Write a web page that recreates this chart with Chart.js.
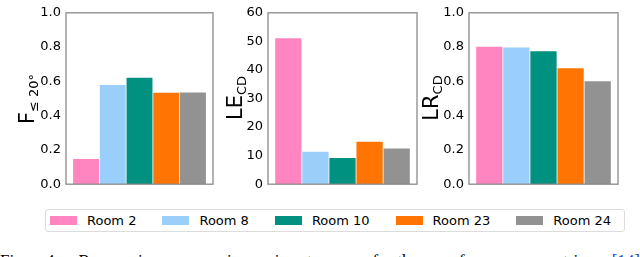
<!DOCTYPE html>
<html>
<head>
<meta charset="utf-8">
<script src="https://cdn.jsdelivr.net/npm/chart.js@4/dist/chart.umd.min.js"></script>
<style>
  html, body { margin: 0; padding: 0; background: #fff; }
  body { width: 640px; height: 257px; position: relative; overflow: hidden; font-family: "DejaVu Sans", sans-serif; }
  .panel { position: absolute; top: 0; }
  .ytitle { position: absolute; font-size: 21px; color: #000; white-space: nowrap; line-height: 1;
            transform: translate(-50%, -50%) rotate(-90deg); }
  .ytitle sub { font-size: 13px; vertical-align: -4px; }
  #legend { position: absolute; left: 45px; top: 209px; width: 574px; height: 21px;
            border: 1px solid #dcdcdc; border-radius: 3px; display: flex; align-items: center;
            padding-left: 4px; box-sizing: content-box; }
  .item { display: flex; align-items: center; margin-right: 26px; font-size: 13px; color: #000;
          white-space: nowrap; flex-shrink: 0; }
  .sw { width: 27px; height: 9px; margin-right: 10px; flex-shrink: 0; }
  #caption { position: absolute; left: 0; top: 252px; width: 640px; font-family: "Liberation Serif", serif;
             font-size: 17px; line-height: 17px; text-align: justify; text-align-last: justify; white-space: nowrap; }
  #caption a { color: #1a3fd6; text-decoration: none; }
</style>
</head>
<body>
<div class="panel" id="p1"><canvas id="c1" width="193" height="197"></canvas></div>
<div class="panel" id="p2"><canvas id="c2" width="195" height="197"></canvas></div>
<div class="panel" id="p3"><canvas id="c3" width="195" height="197"></canvas></div>
<div class="ytitle" style="left:28px;top:99px">F<sub>≤ 20°</sub></div>
<div class="ytitle" style="left:236px;top:98px">LE<sub>CD</sub></div>
<div class="ytitle" style="left:432px;top:98px">LR<sub>CD</sub></div>
<div id="legend"></div>
<div id="caption">Fig. 4: Room-wise comparison in terms of the performance metrics <a>[14]</a></div>
<script>
const rooms = ['Room 2', 'Room 8', 'Room 10', 'Room 23', 'Room 24'];
const roomColors = ['#ff85c0', '#99cffa', '#009180', '#ff7402', '#929292'];

const fValues = [0.147, 0.579, 0.621, 0.533, 0.535];
const leValues = [51.1, 11.4, 9.2, 14.9, 12.5];
const lrValues = [0.802, 0.797, 0.775, 0.676, 0.601];

const fTicks = [0, 0.2, 0.4, 0.6, 0.8, 1.0];
const leTicks = [0, 10, 20, 30, 40, 50, 60];
const lrTicks = [0, 0.2, 0.4, 0.6, 0.8, 1.0];

// chart area left edge for each panel
const panels = [
    {id: 'c1', box: 'p1', left: 66, values: fValues, ticks: fTicks, digits: 1},
    {id: 'c2', box: 'p2', left: 268, values: leValues, ticks: leTicks, digits: 0},
    {id: 'c3', box: 'p3', left: 469, values: lrValues, ticks: lrTicks, digits: 1},
];

const axisWidth = 44;

const frame = {
    id: 'frame',
    afterDraw(chart) {
        const a = chart.chartArea;
        const c = chart.ctx;
        c.save();
        c.strokeStyle = '#8a8a8a';
        c.lineWidth = 1.3;
        c.strokeRect(a.left, a.top, a.right - a.left, a.bottom - a.top);
        c.restore();
    }
};

panels.forEach((p) => {
    const box = document.getElementById(p.box);
    box.style.left = (p.left - axisWidth) + 'px';
    const tickVals = p.ticks;
    new Chart(document.getElementById(p.id), {
        type: 'bar',
        data: {
            datasets: [{
                data: p.values.map((v, i) => ({x: i, y: v})),
                backgroundColor: roomColors,
                borderWidth: 0,
                barPercentage: 0.97,
                categoryPercentage: 1,
            }]
        },
        options: {
            responsive: false,
            animation: false,
            layout: {padding: {top: 7, bottom: 8, left: 0, right: 2}},
            plugins: {legend: {display: false}, tooltip: {enabled: false}},
            scales: {
                x: {
                    type: 'linear', min: -0.75, max: 4.75, display: false, offset: false,
                    afterBuildTicks(scale) { scale.ticks = rooms.map((r, i) => ({value: i})); },
                },
                y: {
                    min: tickVals[0],
                    max: tickVals[tickVals.length - 1],
                    afterFit(scale) { scale.width = axisWidth; },
                    afterBuildTicks(scale) { scale.ticks = tickVals.map((v) => ({value: v})); },
                    grid: {display: false, drawTicks: false, tickLength: 0},
                    border: {display: false},
                    ticks: {
                        color: '#000',
                        padding: 5,
                        font: {family: 'DejaVu Sans', size: 13},
                        callback: (v) => Number(v).toFixed(p.digits),
                    }
                }
            }
        },
        plugins: [frame]
    });
});

const legend = document.getElementById('legend');
rooms.forEach((name, i) => {
    const item = document.createElement('div');
    item.className = 'item';
    const sw = document.createElement('div');
    sw.className = 'sw';
    sw.style.background = roomColors[i];
    const label = document.createElement('span');
    label.textContent = name;
    item.appendChild(sw);
    item.appendChild(label);
    legend.appendChild(item);
});
</script>
</body>
</html>
